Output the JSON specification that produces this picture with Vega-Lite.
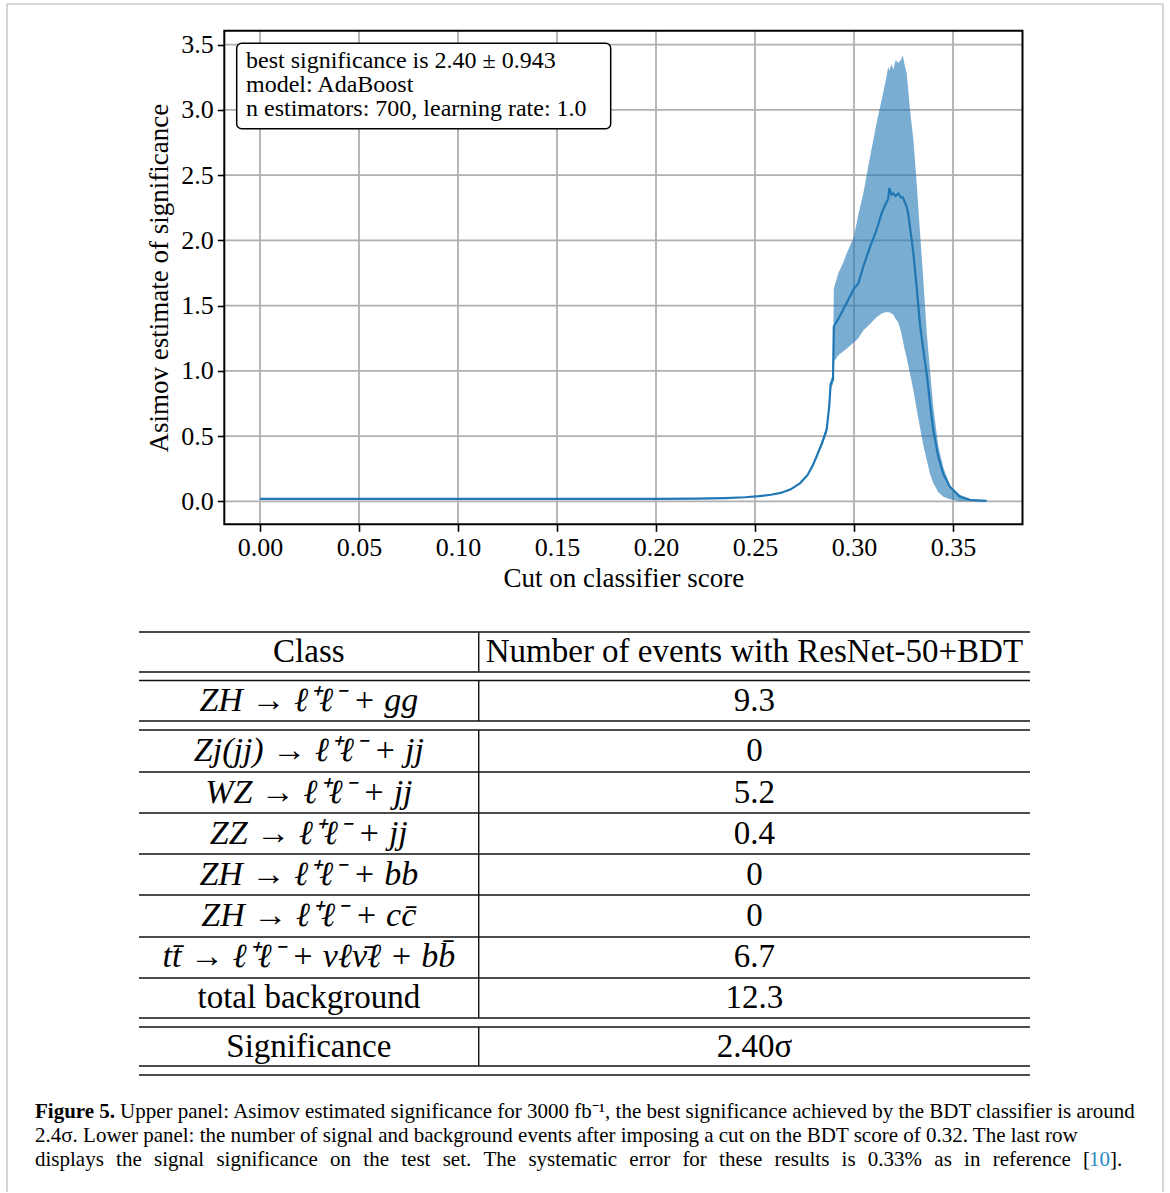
{
  "$schema": "https://vega.github.io/schema/vega-lite/v6.json",
  "width": 1170,
  "height": 1193,
  "autosize": {"type": "fit", "contains": "padding"},
  "padding": 0,
  "background": "white",
  "config": {
    "view": {"stroke": null},
    "axis": {"grid": false, "domain": false, "labelFont": "Liberation Serif", "titleFont": "Liberation Serif", "labelColor": "black", "titleColor": "black", "tickColor": "black", "titleFontWeight": "normal"}
  },
  "datasets": {
    "curve": [
      {"score": 0.000, "sig": 0.018, "lo": 0.018, "hi": 0.018},
      {"score": 0.050, "sig": 0.018, "lo": 0.018, "hi": 0.018},
      {"score": 0.100, "sig": 0.018, "lo": 0.018, "hi": 0.018},
      {"score": 0.150, "sig": 0.018, "lo": 0.018, "hi": 0.018},
      {"score": 0.200, "sig": 0.019, "lo": 0.019, "hi": 0.019},
      {"score": 0.220, "sig": 0.021, "lo": 0.021, "hi": 0.021},
      {"score": 0.235, "sig": 0.025, "lo": 0.025, "hi": 0.025},
      {"score": 0.245, "sig": 0.031, "lo": 0.031, "hi": 0.031},
      {"score": 0.252, "sig": 0.039, "lo": 0.039, "hi": 0.039},
      {"score": 0.258, "sig": 0.050, "lo": 0.050, "hi": 0.050},
      {"score": 0.263, "sig": 0.064, "lo": 0.064, "hi": 0.064},
      {"score": 0.268, "sig": 0.092, "lo": 0.090, "hi": 0.094},
      {"score": 0.2727, "sig": 0.138, "lo": 0.134, "hi": 0.142},
      {"score": 0.2765, "sig": 0.200, "lo": 0.194, "hi": 0.206},
      {"score": 0.2790, "sig": 0.270, "lo": 0.26, "hi": 0.28},
      {"score": 0.2810, "sig": 0.340, "lo": 0.33, "hi": 0.35},
      {"score": 0.2837, "sig": 0.440, "lo": 0.42, "hi": 0.46},
      {"score": 0.2862, "sig": 0.550, "lo": 0.52, "hi": 0.58},
      {"score": 0.2875, "sig": 0.730, "lo": 0.70, "hi": 0.76},
      {"score": 0.2882, "sig": 0.900, "lo": 0.86, "hi": 0.94},
      {"score": 0.2894, "sig": 0.930, "lo": 0.90, "hi": 0.96},
      {"score": 0.2898, "sig": 1.340, "lo": 1.07, "hi": 1.63},
      {"score": 0.2921, "sig": 1.400, "lo": 1.12, "hi": 1.75},
      {"score": 0.2946, "sig": 1.470, "lo": 1.15, "hi": 1.83},
      {"score": 0.2963, "sig": 1.520, "lo": 1.17, "hi": 1.90},
      {"score": 0.3000, "sig": 1.630, "lo": 1.22, "hi": 2.03},
      {"score": 0.3022, "sig": 1.670, "lo": 1.25, "hi": 2.20},
      {"score": 0.3047, "sig": 1.800, "lo": 1.31, "hi": 2.36},
      {"score": 0.3081, "sig": 1.950, "lo": 1.36, "hi": 2.64},
      {"score": 0.3114, "sig": 2.080, "lo": 1.41, "hi": 2.90},
      {"score": 0.3140, "sig": 2.210, "lo": 1.44, "hi": 3.08},
      {"score": 0.3157, "sig": 2.270, "lo": 1.45, "hi": 3.20},
      {"score": 0.3173, "sig": 2.320, "lo": 1.45, "hi": 3.33},
      {"score": 0.3178, "sig": 2.400, "lo": 1.45, "hi": 3.30},
      {"score": 0.3190, "sig": 2.350, "lo": 1.44, "hi": 3.35},
      {"score": 0.3199, "sig": 2.360, "lo": 1.43, "hi": 3.31},
      {"score": 0.3210, "sig": 2.340, "lo": 1.40, "hi": 3.38},
      {"score": 0.3224, "sig": 2.360, "lo": 1.37, "hi": 3.36},
      {"score": 0.3236, "sig": 2.330, "lo": 1.31, "hi": 3.38},
      {"score": 0.3246, "sig": 2.330, "lo": 1.24, "hi": 3.42},
      {"score": 0.3255, "sig": 2.300, "lo": 1.17, "hi": 3.35},
      {"score": 0.3266, "sig": 2.260, "lo": 1.10, "hi": 3.28},
      {"score": 0.3274, "sig": 2.200, "lo": 1.04, "hi": 3.15},
      {"score": 0.3283, "sig": 2.100, "lo": 0.98, "hi": 3.00},
      {"score": 0.3300, "sig": 1.900, "lo": 0.85, "hi": 2.77},
      {"score": 0.3316, "sig": 1.650, "lo": 0.71, "hi": 2.45},
      {"score": 0.3333, "sig": 1.360, "lo": 0.57, "hi": 2.07},
      {"score": 0.3350, "sig": 1.160, "lo": 0.43, "hi": 1.70},
      {"score": 0.3367, "sig": 0.980, "lo": 0.32, "hi": 1.30},
      {"score": 0.3384, "sig": 0.750, "lo": 0.21, "hi": 1.00},
      {"score": 0.3400, "sig": 0.550, "lo": 0.14, "hi": 0.73},
      {"score": 0.3426, "sig": 0.340, "lo": 0.07, "hi": 0.42},
      {"score": 0.3451, "sig": 0.210, "lo": 0.035, "hi": 0.26},
      {"score": 0.3485, "sig": 0.110, "lo": 0.015, "hi": 0.12},
      {"score": 0.3535, "sig": 0.035, "lo": 0.0, "hi": 0.05},
      {"score": 0.3586, "sig": 0.010, "lo": 0.0, "hi": 0.02},
      {"score": 0.3670, "sig": 0.003, "lo": 0.0, "hi": 0.005}
    ],
    "xgrid": [{"score": 0}, {"score": 0.05}, {"score": 0.1}, {"score": 0.15}, {"score": 0.2}, {"score": 0.25}, {"score": 0.3}, {"score": 0.35}],
    "ygrid": [{"sig": 0}, {"sig": 0.5}, {"sig": 1}, {"sig": 1.5}, {"sig": 2}, {"sig": 2.5}, {"sig": 3}, {"sig": 3.5}],
    "table": [
      {"cls": "Class", "num": "Number of events with ResNet-50+BDT", "v": 0.488, "kind": "header"},
      {"cls": "ZH → ℓ⁺ℓ⁻ + gg", "num": "9.3", "v": 1.671, "kind": "process"},
      {"cls": "Zj(jj) → ℓ⁺ℓ⁻ + jj", "num": "0", "v": 2.902, "kind": "process"},
      {"cls": "WZ → ℓ⁺ℓ⁻ + jj", "num": "5.2", "v": 3.915, "kind": "process"},
      {"cls": "ZZ → ℓ⁺ℓ⁻ + jj", "num": "0.4", "v": 4.915, "kind": "process"},
      {"cls": "ZH → ℓ⁺ℓ⁻ + bb", "num": "0", "v": 5.915, "kind": "process"},
      {"cls": "ZH → ℓ⁺ℓ⁻ + cc̄", "num": "0", "v": 6.927, "kind": "process"},
      {"cls": "tt̄ → ℓ⁺ℓ⁻ + νℓν̄ℓ + bb̄", "num": "6.7", "v": 7.939, "kind": "process"},
      {"cls": "total background", "num": "12.3", "v": 8.927, "kind": "summary"},
      {"cls": "Significance", "num": "2.40σ", "v": 10.11, "kind": "summary"}
    ],
    "hlines": [{"v": 0}, {"v": 0.976}, {"v": 1.183}, {"v": 2.171}, {"v": 2.390}, {"v": 3.415}, {"v": 4.415}, {"v": 5.415}, {"v": 6.415}, {"v": 7.439}, {"v": 8.439}, {"v": 9.415}, {"v": 9.634}, {"v": 10.585}, {"v": 10.805}],
    "vsegs": [{"v1": 0, "v2": 0.976}, {"v1": 1.183, "v2": 2.171}, {"v1": 2.390, "v2": 9.415}, {"v1": 9.634, "v2": 10.585}],
    "caption": [
      {"u": -0.11672, "v": 11.707, "text": "Figure 5.", "part": "label"},
      {"u": -0.02132, "v": 11.707, "text": "Upper panel: Asimov estimated significance for 3000 fb⁻¹, the best significance achieved by the BDT classifier is around", "part": "body"},
      {"u": -0.11672, "v": 12.293, "text": "2.4σ. Lower panel: the number of signal and background events after imposing a cut on the BDT score of 0.32. The last row", "part": "body"},
      {"u": -0.11672, "v": 12.878, "text": "displays\u2002\u200athe\u2002\u200asignal\u2002\u200asignificance\u2002\u200aon\u2002\u200athe\u2002\u200atest\u2002\u200aset.\u2002\u200aThe\u2002\u200asystematic\u2002\u200aerror\u2002\u200afor\u2002\u200athese\u2002\u200aresults\u2002\u200ais\u2002\u200a0.33%\u2002\u200aas\u2002\u200ain\u2002\u200areference\u2002\u200a[", "part": "body"},
      {"u": 1.0662, "v": 12.878, "text": "10", "part": "ref"},
      {"u": 1.0898, "v": 12.878, "text": "].", "part": "body"}
    ]
  },
  "layer": [
    {
      "data": {"name": "xgrid"},
      "mark": {"type": "rule", "color": "#b0b0b0", "strokeWidth": 1.8},
      "encoding": {
        "x": {"field": "score", "type": "quantitative", "scale": {"domain": [-0.131313, 0.459596], "nice": false, "zero": false}, "axis": null},
        "y": {"datum": -0.1763, "type": "quantitative", "scale": {"domain": [-5.302, 3.8426], "nice": false, "zero": false}, "axis": null},
        "y2": {"datum": 3.6066}
      }
    },
    {
      "data": {"name": "ygrid"},
      "mark": {"type": "rule", "color": "#b0b0b0", "strokeWidth": 1.8},
      "encoding": {
        "y": {"field": "sig", "type": "quantitative", "scale": {"domain": [-5.302, 3.8426], "nice": false, "zero": false}, "axis": null},
        "x": {"datum": -0.01803, "type": "quantitative", "scale": {"domain": [-0.131313, 0.459596], "nice": false, "zero": false}, "axis": null},
        "x2": {"datum": 0.3851}
      }
    },
    {
      "data": {"name": "curve"},
      "mark": {"type": "area", "color": "#1f77b4", "opacity": 0.6},
      "encoding": {
        "x": {"field": "score", "type": "quantitative", "scale": {"domain": [-0.131313, 0.459596], "nice": false, "zero": false}, "axis": null},
        "y": {"field": "lo", "type": "quantitative", "scale": {"domain": [-5.302, 3.8426], "nice": false, "zero": false}, "axis": null},
        "y2": {"field": "hi"}
      }
    },
    {
      "data": {"name": "curve"},
      "mark": {"type": "line", "color": "#1f77b4", "strokeWidth": 2.2},
      "encoding": {
        "x": {"field": "score", "type": "quantitative", "scale": {"domain": [-0.131313, 0.459596], "nice": false, "zero": false},
          "axis": {"orient": "bottom", "values": [0, 0.05, 0.1, 0.15, 0.2, 0.25, 0.3, 0.35], "format": ".2f", "offset": -668.7, "tickSize": 7, "tickWidth": 1.6, "labelFontSize": 26, "labelPadding": 3, "labelFlush": false, "labelOverlap": false, "title": "Cut on classifier score", "titleFontSize": 27, "titleX": 623.4, "titlePadding": 5}},
        "y": {"field": "sig", "type": "quantitative", "scale": {"domain": [-5.302, 3.8426], "nice": false, "zero": false},
          "axis": {"orient": "left", "values": [0, 0.5, 1, 1.5, 2, 2.5, 3, 3.5], "format": ".1f", "offset": -224.3, "tickSize": 7, "tickWidth": 1.6, "labelFontSize": 26, "labelPadding": 4, "labelFlush": false, "labelOverlap": false, "title": "Asimov estimate of significance", "titleFontSize": 27, "titleY": 277.7, "titlePadding": 7}}
      }
    },
    {
      "data": {"values": [{}]},
      "mark": {"type": "rect", "filled": false, "color": "black", "strokeWidth": 2},
      "encoding": {
        "x": {"datum": -0.01803, "type": "quantitative", "scale": {"domain": [-0.131313, 0.459596], "nice": false, "zero": false}, "axis": null},
        "x2": {"datum": 0.3851},
        "y": {"datum": -0.1763, "type": "quantitative", "scale": {"domain": [-5.302, 3.8426], "nice": false, "zero": false}, "axis": null},
        "y2": {"datum": 3.6066}
      }
    },
    {
      "data": {"values": [{}]},
      "mark": {"type": "rect", "fill": "white", "stroke": "black", "strokeWidth": 1.5, "cornerRadius": 5},
      "encoding": {
        "x": {"datum": -0.01177, "type": "quantitative", "scale": {"domain": [-0.131313, 0.459596], "nice": false, "zero": false}, "axis": null},
        "x2": {"datum": 0.17712},
        "y": {"datum": 2.8561, "type": "quantitative", "scale": {"domain": [-5.302, 3.8426], "nice": false, "zero": false}, "axis": null},
        "y2": {"datum": 3.5107}
      }
    },
    {
      "data": {"values": [{}]},
      "mark": {"type": "text", "text": ["best significance is 2.40 ± 0.943", "model:  AdaBoost", "n estimators:  700, learning rate:  1.0"], "align": "left", "baseline": "middle", "font": "Liberation Serif", "fontSize": 24, "lineHeight": 24, "color": "black"},
      "encoding": {
        "x": {"datum": -0.00707, "type": "quantitative", "scale": {"domain": [-0.131313, 0.459596], "nice": false, "zero": false}, "axis": null},
        "y": {"datum": 3.375, "type": "quantitative", "scale": {"domain": [-5.302, 3.8426], "nice": false, "zero": false}, "axis": null}
      }
    },
    {
      "data": {"values": [{}]},
      "mark": {"type": "rule", "color": "#c8c8c8", "strokeWidth": 1.5},
      "encoding": {
        "x": {"datum": -0.14815, "type": "quantitative", "scale": {"domain": [-0.156, 1.15713], "nice": false, "zero": false}, "axis": null},
        "y": {"datum": -15.317, "type": "quantitative", "scale": {"domain": [-15.4146, 13.6829], "nice": false, "zero": false, "reverse": true}, "axis": null},
        "y2": {"datum": 13.659}
      }
    },
    {
      "data": {"values": [{}]},
      "mark": {"type": "rule", "color": "#c8c8c8", "strokeWidth": 1.5},
      "encoding": {
        "x": {"datum": 1.14927, "type": "quantitative", "scale": {"domain": [-0.156, 1.15713], "nice": false, "zero": false}, "axis": null},
        "y": {"datum": -15.317, "type": "quantitative", "scale": {"domain": [-15.4146, 13.6829], "nice": false, "zero": false, "reverse": true}, "axis": null},
        "y2": {"datum": 13.659}
      }
    },
    {
      "data": {"values": [{}]},
      "mark": {"type": "rule", "color": "#c8c8c8", "strokeWidth": 1.5},
      "encoding": {
        "x": {"datum": -0.14815, "type": "quantitative", "scale": {"domain": [-0.156, 1.15713], "nice": false, "zero": false}, "axis": null},
        "x2": {"datum": 1.14927},
        "y": {"datum": -15.317, "type": "quantitative", "scale": {"domain": [-15.4146, 13.6829], "nice": false, "zero": false, "reverse": true}, "axis": null}
      }
    },
    {
      "data": {"name": "hlines"},
      "mark": {"type": "rule", "color": "#111111", "strokeWidth": 1.4},
      "encoding": {
        "x": {"datum": 0, "type": "quantitative", "scale": {"domain": [-0.156, 1.15713], "nice": false, "zero": false}, "axis": null},
        "x2": {"datum": 1},
        "y": {"field": "v", "type": "quantitative", "scale": {"domain": [-15.4146, 13.6829], "nice": false, "zero": false, "reverse": true}, "axis": null}
      }
    },
    {
      "data": {"name": "vsegs"},
      "mark": {"type": "rule", "color": "#111111", "strokeWidth": 1.4},
      "encoding": {
        "x": {"datum": 0.3813, "type": "quantitative", "scale": {"domain": [-0.156, 1.15713], "nice": false, "zero": false}, "axis": null},
        "y": {"field": "v1", "type": "quantitative", "scale": {"domain": [-15.4146, 13.6829], "nice": false, "zero": false, "reverse": true}, "axis": null},
        "y2": {"field": "v2"}
      }
    },
    {
      "data": {"name": "table"},
      "transform": [{"filter": "datum.kind === 'process'"}],
      "mark": {"type": "text", "align": "center", "baseline": "middle", "font": "Liberation Serif", "fontSize": 34, "fontStyle": "italic", "color": "black"},
      "encoding": {
        "x": {"datum": 0.1906, "type": "quantitative", "scale": {"domain": [-0.156, 1.15713], "nice": false, "zero": false}, "axis": null},
        "y": {"field": "v", "type": "quantitative", "scale": {"domain": [-15.4146, 13.6829], "nice": false, "zero": false, "reverse": true}, "axis": null},
        "text": {"field": "cls"}
      }
    },
    {
      "data": {"name": "table"},
      "transform": [{"filter": "datum.kind !== 'process'"}],
      "mark": {"type": "text", "align": "center", "baseline": "middle", "font": "Liberation Serif", "fontSize": 33, "color": "black"},
      "encoding": {
        "x": {"datum": 0.1906, "type": "quantitative", "scale": {"domain": [-0.156, 1.15713], "nice": false, "zero": false}, "axis": null},
        "y": {"field": "v", "type": "quantitative", "scale": {"domain": [-15.4146, 13.6829], "nice": false, "zero": false, "reverse": true}, "axis": null},
        "text": {"field": "cls"}
      }
    },
    {
      "data": {"name": "table"},
      "mark": {"type": "text", "align": "center", "baseline": "middle", "font": "Liberation Serif", "fontSize": 33, "color": "black"},
      "encoding": {
        "x": {"datum": 0.6907, "type": "quantitative", "scale": {"domain": [-0.156, 1.15713], "nice": false, "zero": false}, "axis": null},
        "y": {"field": "v", "type": "quantitative", "scale": {"domain": [-15.4146, 13.6829], "nice": false, "zero": false, "reverse": true}, "axis": null},
        "text": {"field": "num"}
      }
    },
    {
      "data": {"name": "caption"},
      "transform": [{"filter": "datum.part === 'label'"}],
      "mark": {"type": "text", "align": "left", "baseline": "middle", "font": "Liberation Serif", "fontSize": 21, "fontWeight": "bold", "color": "black"},
      "encoding": {
        "x": {"field": "u", "type": "quantitative", "scale": {"domain": [-0.156, 1.15713], "nice": false, "zero": false}, "axis": null},
        "y": {"field": "v", "type": "quantitative", "scale": {"domain": [-15.4146, 13.6829], "nice": false, "zero": false, "reverse": true}, "axis": null},
        "text": {"field": "text"}
      }
    },
    {
      "data": {"name": "caption"},
      "transform": [{"filter": "datum.part === 'body'"}],
      "mark": {"type": "text", "align": "left", "baseline": "middle", "font": "Liberation Serif", "fontSize": 21, "color": "black"},
      "encoding": {
        "x": {"field": "u", "type": "quantitative", "scale": {"domain": [-0.156, 1.15713], "nice": false, "zero": false}, "axis": null},
        "y": {"field": "v", "type": "quantitative", "scale": {"domain": [-15.4146, 13.6829], "nice": false, "zero": false, "reverse": true}, "axis": null},
        "text": {"field": "text"}
      }
    },
    {
      "data": {"name": "caption"},
      "transform": [{"filter": "datum.part === 'ref'"}],
      "mark": {"type": "text", "align": "left", "baseline": "middle", "font": "Liberation Serif", "fontSize": 21, "color": "#2a8ac4"},
      "encoding": {
        "x": {"field": "u", "type": "quantitative", "scale": {"domain": [-0.156, 1.15713], "nice": false, "zero": false}, "axis": null},
        "y": {"field": "v", "type": "quantitative", "scale": {"domain": [-15.4146, 13.6829], "nice": false, "zero": false, "reverse": true}, "axis": null},
        "text": {"field": "text"}
      }
    }
  ],
  "resolve": {"scale": {"x": "independent", "y": "independent"}, "axis": {"x": "independent", "y": "independent"}}
}
